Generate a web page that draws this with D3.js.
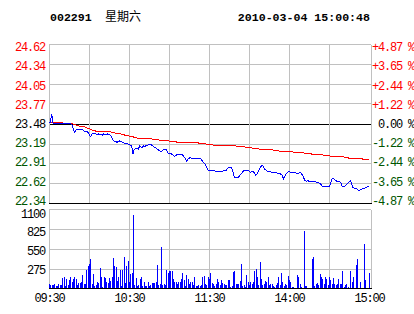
<!DOCTYPE html>
<html><head><meta charset="utf-8">
<script src="https://cdn.jsdelivr.net/npm/d3@7"></script>
<style>html,body{margin:0;padding:0;background:#fff;overflow:hidden}svg{display:block}</style>
</head><body>
<svg id="c" width="414" height="314"></svg>
<script>
const stockCode = "002291";
const weekday = "星期六";
const stamp = "2010-03-04 15:00:48";
const prevClose = 23.48;
const maxPct = 4.87;
const priceTicks = [24.62,24.34,24.05,23.77,23.48,23.19,22.91,22.62,22.34];
const pctTicks = ["+4.87 %","+3.65 %","+2.44 %","+1.22 %"," 0.00 %","-1.22 %","-2.44 %","-3.65 %","-4.87 %"];
const volTicks = [1100,825,550,275];
const volMax = 1100;
const timeLabels = ["09:30","10:30","11:30","14:00","15:00"];
const timeLabelMinutes = [0,60,120,180,240];
const gridMinutes = [30,60,90,120,150,180,210];

const prices = [
23.49,23.49,23.62,23.49,23.48,23.48,23.48,23.48,23.48,23.48,
23.48,23.48,23.48,23.48,23.48,23.48,23.48,23.47,23.42,23.35,
23.38,23.40,23.39,23.39,23.40,23.39,23.38,23.36,23.37,23.36,
23.33,23.29,23.32,23.34,23.34,23.33,23.32,23.33,23.32,23.32,
23.31,23.33,23.32,23.32,23.33,23.32,23.31,23.29,23.24,23.22,
23.22,23.21,23.22,23.23,23.22,23.21,23.20,23.19,23.19,23.19,
23.18,23.17,23.16,23.04,23.11,23.12,23.13,23.11,23.16,23.14,
23.14,23.16,23.15,23.17,23.17,23.18,23.18,23.17,23.16,23.14,
23.13,23.11,23.10,23.09,23.07,23.09,23.11,23.11,23.10,23.06,
23.05,23.05,23.04,23.03,23.01,23.02,23.03,23.03,23.03,23.03,
23.03,23.01,22.98,22.94,22.96,22.98,22.99,22.98,22.98,22.97,
22.97,22.97,22.97,22.97,22.97,22.94,22.92,22.90,22.86,22.82,
22.80,22.81,22.81,22.80,22.80,22.79,22.79,22.79,22.79,22.79,
22.79,22.80,22.80,22.81,22.84,22.85,22.85,22.84,22.78,22.70,
22.70,22.70,22.71,22.73,22.75,22.78,22.80,22.80,22.80,22.80,
22.80,22.78,22.79,22.79,22.77,22.73,22.75,22.79,22.83,22.86,
22.88,22.85,22.82,22.81,22.79,22.79,22.79,22.78,22.78,22.77,
22.78,22.77,22.76,22.76,22.75,22.73,22.68,22.73,22.76,22.78,
22.79,22.78,22.77,22.78,22.77,22.77,22.76,22.76,22.78,22.77,
22.74,22.70,22.66,22.65,22.66,22.65,22.65,22.65,22.65,22.65,
22.64,22.63,22.63,22.62,22.60,22.58,22.57,22.57,22.57,22.57,
22.57,22.60,22.68,22.70,22.67,22.66,22.65,22.64,22.64,22.62,
22.57,22.58,22.58,22.60,22.62,22.64,22.66,22.61,22.56,22.55,
22.55,22.54,22.52,22.52,22.53,22.54,22.54,22.55,22.56,22.57,
22.57];

const avgPrices = [
23.49,23.50,23.50,23.50,23.50,23.49,23.49,23.49,23.49,23.49,
23.49,23.48,23.48,23.48,23.48,23.48,23.48,23.48,23.47,23.46,
23.46,23.45,23.45,23.44,23.44,23.44,23.44,23.43,23.42,23.41,
23.41,23.40,23.39,23.38,23.38,23.37,23.37,23.37,23.37,23.36,
23.36,23.36,23.36,23.36,23.36,23.36,23.36,23.35,23.35,23.35,
23.34,23.34,23.34,23.33,23.33,23.32,23.32,23.31,23.31,23.31,
23.30,23.30,23.29,23.29,23.28,23.28,23.27,23.27,23.26,23.26,
23.26,23.26,23.26,23.26,23.26,23.26,23.26,23.26,23.25,23.25,
23.25,23.25,23.25,23.24,23.24,23.24,23.24,23.23,23.23,23.23,
23.23,23.22,23.22,23.22,23.22,23.22,23.21,23.21,23.21,23.21,
23.21,23.20,23.20,23.20,23.20,23.20,23.20,23.20,23.20,23.20,
23.20,23.20,23.20,23.19,23.19,23.19,23.19,23.19,23.18,23.18,
23.18,23.18,23.18,23.17,23.17,23.17,23.17,23.17,23.17,23.17,
23.17,23.16,23.16,23.16,23.16,23.16,23.16,23.16,23.16,23.16,
23.16,23.15,23.15,23.15,23.15,23.15,23.15,23.14,23.14,23.14,
23.13,23.13,23.13,23.12,23.12,23.12,23.12,23.12,23.11,23.11,
23.11,23.11,23.11,23.10,23.10,23.10,23.10,23.10,23.10,23.09,
23.09,23.09,23.09,23.08,23.08,23.08,23.08,23.08,23.08,23.08,
23.08,23.08,23.08,23.07,23.07,23.07,23.07,23.07,23.06,23.06,
23.06,23.06,23.05,23.05,23.05,23.05,23.05,23.04,23.04,23.04,
23.03,23.03,23.03,23.03,23.03,23.03,23.02,23.02,23.02,23.02,
23.02,23.01,23.01,23.01,23.01,23.01,23.01,23.00,23.00,23.00,
23.00,23.00,22.99,22.99,22.99,22.98,22.98,22.98,22.98,22.98,
22.97,22.97,22.97,22.97,22.97,22.97,22.96,22.96,22.96,22.96,
22.96];

const volumes = [
60,40,35,40,60,30,30,50,40,45,
140,150,30,130,40,110,160,90,120,160,
120,40,70,75,80,185,60,50,255,300,
340,410,50,200,30,40,90,70,280,150,
20,150,140,80,70,140,100,160,420,300,
290,100,150,250,30,250,430,70,300,380,
80,200,205,1015,40,140,30,40,125,160,
30,80,30,30,80,30,40,70,70,70,
80,320,40,60,575,40,60,40,255,215,
230,230,240,130,80,80,60,80,90,130,
215,110,30,185,130,60,90,80,40,150,
30,30,40,30,40,150,170,60,40,150,
120,215,70,50,30,60,120,80,40,110,
70,50,40,40,115,115,20,30,220,240,
60,60,60,100,340,30,40,20,185,80,
40,80,60,80,240,270,160,40,365,130,
40,60,100,80,150,40,50,50,30,20,
40,70,150,40,205,80,30,60,40,170,
110,80,20,20,0,0,185,150,50,20,
0,790,30,30,0,0,0,410,435,30,
60,70,40,195,150,120,60,160,130,40,
150,110,60,140,60,40,50,130,50,60,
240,20,40,60,20,0,240,80,150,0,
320,400,0,85,0,0,615,110,0,0,
210];

const svg = d3.select("#c");
const GREY = "#c0c0c0", RED = "#ff0000", GREEN = "#005500", BLUE = "#0000ff";
const monoFont = "'Liberation Mono', 'DejaVu Sans Mono', monospace";

const x = d3.scaleLinear().domain([0, 240]).range([49, 369]);
const y = d3.scaleLinear().domain([prevClose*(1-maxPct/100), prevClose*(1+maxPct/100)]).range([203, 44]);
const yLab = d3.scaleLinear().domain(y.domain()).range([204.3, 50.7]);
const yv = d3.scaleLinear().domain([0, volMax]).range([288, 209]);
const yvLab = d3.scaleLinear().domain([0, volMax]).range([292, 217]);

const px = v => Math.round(v) + 0.5;

// header
svg.append("text").attr("x", 50).attr("y", 21)
  .style("font-family", monoFont).style("font-weight", "bold").style("font-size", "11.6px")
  .text(stockCode);
svg.append("text").attr("x", 105).attr("y", 21)
  .style("font-family", "'Noto Sans CJK SC', sans-serif").style("font-size", "12px")
  .text(weekday);
svg.append("text").attr("x", 370).attr("y", 21).attr("text-anchor", "end")
  .style("font-family", monoFont).style("font-weight", "bold").style("font-size", "11.6px")
  .text(stamp);

const g = svg.append("g").style("shape-rendering", "crispEdges");

// main grid
priceTicks.forEach((v, i) => {
  const yy = px(y(v));
  g.append("line").attr("x1", 49).attr("x2", 371).attr("y1", yy).attr("y2", yy)
    .attr("stroke", (i === 4 || i === 8) ? "#000" : GREY);
});
// volume grid
volTicks.forEach(v => {
  const yy = Math.ceil(yv(v)) + 0.5;
  g.append("line").attr("x1", 49).attr("x2", 371).attr("y1", yy).attr("y2", yy).attr("stroke", GREY);
});
// vertical grid
gridMinutes.forEach(m => {
  const xx = px(x(m));
  g.append("line").attr("x1", xx).attr("x2", xx).attr("y1", px(y.range()[1])).attr("y2", px(y.range()[0])).attr("stroke", GREY);
  g.append("line").attr("x1", xx).attr("x2", xx).attr("y1", Math.ceil(yv(volMax)) + 0.5).attr("y2", px(yv(0))).attr("stroke", GREY);
});
// borders
[[y.range()[1], y.range()[0]], [yv(volMax), yv(0)]].forEach(([a, b]) => {
  g.append("line").attr("x1", 49.5).attr("x2", 49.5).attr("y1", px(a)).attr("y2", px(b)).attr("stroke", GREY);
  g.append("line").attr("x1", 371.5).attr("x2", 371.5).attr("y1", px(a)).attr("y2", px(b)).attr("stroke", GREY);
});

// volume bars
g.append("g").selectAll("rect").data(volumes).join("rect")
  .attr("x", (d, i) => Math.round(x(i)))
  .attr("width", 1)
  .attr("y", d => Math.round(yv(d)))
  .attr("height", d => Math.max(0, Math.round(yv(0)) - Math.round(yv(d))))
  .attr("fill", BLUE);
g.append("line").attr("x1", 49).attr("x2", 372).attr("y1", px(yv(0))).attr("y2", px(yv(0))).attr("stroke", "#000");

// redraw zero line and bottom of price panel in black
g.append("line").attr("x1", 49).attr("x2", 372).attr("y1", px(y(priceTicks[8]))).attr("y2", px(y(priceTicks[8]))).attr("stroke", "#000");

// lines
const line = d3.line().x((d, i) => x(i)).y(d => y(d));
g.append("path").datum(avgPrices).attr("d", line).attr("fill", "none").attr("stroke", RED).attr("stroke-width", 1);
g.append("path").datum(prices).attr("d", line).attr("fill", "none").attr("stroke", BLUE).attr("stroke-width", 1);

function styleAxis(sel) {
  sel.select(".domain").remove();
  sel.selectAll("text").style("font-family", monoFont).style("font-size", "12px")
    .style("letter-spacing", "-1.2px").style("white-space", "pre").attr("dy", 0);
}
const colorFor = i => i < 4 ? RED : (i === 4 ? "#000" : GREEN);

// left price axis
const aL = svg.append("g").attr("transform", "translate(49,0)")
  .call(d3.axisLeft(yLab).tickValues(priceTicks).tickFormat(d3.format(".2f")).tickSize(0).tickPadding(4));
styleAxis(aL);
aL.selectAll("text").attr("fill", (d, i) => colorFor(i));

// right pct axis
const aR = svg.append("g").attr("transform", "translate(371,0)")
  .call(d3.axisRight(yLab).tickValues(priceTicks).tickFormat((d, i) => pctTicks[i]).tickSize(0).tickPadding(1));
styleAxis(aR);
aR.selectAll("text").attr("fill", (d, i) => colorFor(i));
// small tick marks on right for coloured rows
aR.selectAll(".tick").append("line").attr("x1", 0).attr("x2", 0);

// volume axis
const aV = svg.append("g").attr("transform", "translate(49,0)")
  .call(d3.axisLeft(yvLab).tickValues(volTicks).tickFormat(d3.format("d")).tickSize(0).tickPadding(4));
styleAxis(aV);
aV.selectAll("text").attr("fill", "#000");

// time axis
const aB = svg.append("g").attr("transform", "translate(0,302)")
  .call(d3.axisBottom(x).tickValues(timeLabelMinutes).tickFormat((d, i) => timeLabels[i]).tickSize(0).tickPadding(0));
styleAxis(aB);
aB.selectAll("text").attr("fill", "#000").attr("dx", 0);
</script>
</body></html>
